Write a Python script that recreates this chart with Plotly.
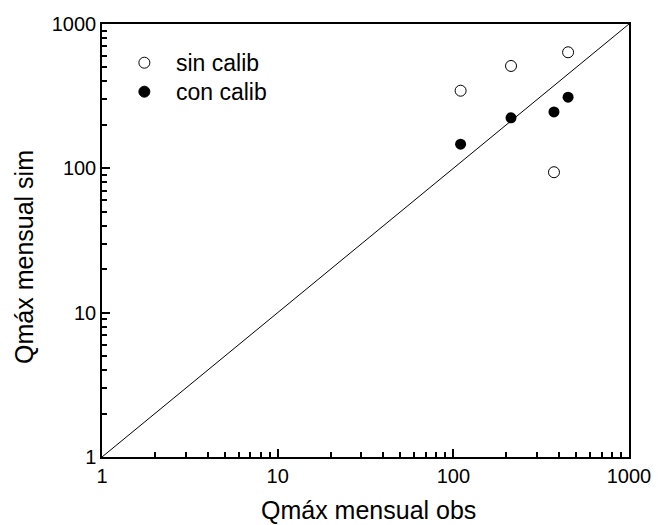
import plotly.graph_objects as go

obs_sin = [110, 213, 450, 374]
sim_sin = [345, 512, 637, 94]
obs_con = [110, 213, 374, 450]
sim_con = [147, 224, 246, 311]
line_x = [1, 1000]
line_y = [1, 1000]
tick_vals = [1, 10, 100, 1000]
tick_text = ["1", "10", "100", "1000"]
minor_mult = [2, 3, 4, 5, 6, 7, 8, 9]
minor_vals = [m * d for d in tick_vals[:-1] for m in minor_mult]
legend_names = ["sin calib", "con calib"]

FONT = "Liberation Sans, Arial"

fig = go.Figure()
fig.add_trace(go.Scatter(x=line_x, y=line_y, mode="lines",
                         line=dict(color="black", width=1), showlegend=False, hoverinfo="skip"))
fig.add_trace(go.Scatter(x=obs_sin, y=sim_sin, mode="markers", name=legend_names[0], showlegend=False,
                         marker=dict(symbol="circle-open", size=11, color="black", line=dict(width=1))))
fig.add_trace(go.Scatter(x=obs_con, y=sim_con, mode="markers", name=legend_names[1], showlegend=False,
                         marker=dict(symbol="circle", size=11, color="black")))

axis_common = dict(
    type="log", range=[0, 3], tickvals=tick_vals, ticktext=tick_text,
    ticks="inside", ticklen=8, tickwidth=1.5, tickcolor="black",
    minor=dict(tickvals=minor_vals, ticks="inside", ticklen=5, tickwidth=1.5,
               tickcolor="black", showgrid=False),
    showline=True, linecolor="black", linewidth=1.5, mirror=True,
    showgrid=False, zeroline=False,
    tickfont=dict(family=FONT, size=20, color="black"),
)
fig.update_xaxes(**axis_common)
fig.update_yaxes(**axis_common)

fig.add_annotation(text="Qmáx mensual obs", xref="paper", yref="paper",
                   x=0.505, y=-0.122, xanchor="center", yanchor="middle", showarrow=False,
                   font=dict(family=FONT, size=25, color="black"))
fig.add_annotation(text="Qmáx mensual sim", xref="paper", yref="paper",
                   x=-0.148, y=0.462, xanchor="center", yanchor="middle", showarrow=False,
                   textangle=-90, font=dict(family=FONT, size=25, color="black"))

# manual legend
leg_y = [0.9106, 0.8437]
leg_fill = ["white", "black"]
for name, yy, fc in zip(legend_names, leg_y, leg_fill):
    fig.add_shape(type="circle", xref="paper", yref="paper", xsizemode="pixel", ysizemode="pixel",
                  xanchor=0.0804, yanchor=yy, x0=-5.5, x1=5.5, y0=-5.5, y1=5.5,
                  line=dict(color="black", width=1), fillcolor=fc)
    fig.add_annotation(text=name, xref="paper", yref="paper", x=0.1364, y=yy,
                       xanchor="left", yanchor="middle", showarrow=False,
                       font=dict(family=FONT, size=23, color="black"))

fig.update_layout(
    width=663, height=525,
    margin=dict(l=102, r=26, t=24, b=68),
    plot_bgcolor="white", paper_bgcolor="white",
    showlegend=False,
)
fig.write_html("out.html")
